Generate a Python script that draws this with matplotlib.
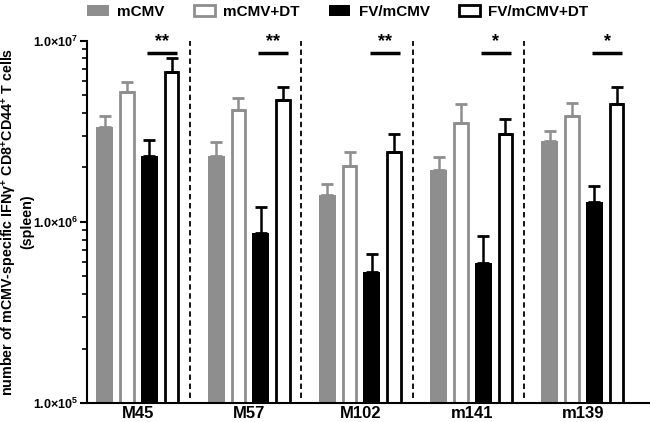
# -*- coding: utf-8 -*-

import numpy as np
import matplotlib
matplotlib.use('Agg')
import matplotlib.pyplot as plt
from matplotlib.patches import Patch
from matplotlib.ticker import FuncFormatter, LogLocator

matplotlib.rc('font', **{'family': 'sans-serif',
                         'sans-serif': ['Liberation Sans', 'DejaVu Sans'],
                         'weight': 'bold'})
matplotlib.rcParams['mathtext.fontset'] = 'custom'
matplotlib.rcParams['mathtext.rm'] = 'Liberation Sans:bold'
matplotlib.rcParams['mathtext.bf'] = 'Liberation Sans:bold'

targets = ['M45', 'M57', 'M102', 'm141', 'm139']
series = ['mCMV', 'mCMV+DT', 'FV/mCMV', 'FV/mCMV+DT']

mcmv = [3.36e6, 2.32e6, 1.41e6, 1.94e6, 2.81e6]
mcmv_err = [0.50e6, 0.46e6, 0.21e6, 0.35e6, 0.38e6]
mcmv_dt = [5.21e6, 4.14e6, 2.03e6, 3.51e6, 3.84e6]
mcmv_dt_err = [0.70e6, 0.72e6, 0.41e6, 1.00e6, 0.70e6]
fv = [2.32e6, 8.66e5, 5.31e5, 5.96e5, 1.29e6]
fv_err = [0.52e6, 0.35e6, 0.134e6, 0.24e6, 0.30e6]
fv_dt = [6.71e6, 4.72e6, 2.43e6, 3.08e6, 4.51e6]
fv_dt_err = [1.31e6, 0.88e6, 0.62e6, 0.64e6, 1.09e6]

stars = ['**', '**', '**', '*', '*']
sig_level = 8.6e6

gray = '#8e8e8e'

fig = plt.figure(figsize=(6.5, 4.22), dpi=100)
ax = fig.add_axes([0.134, 0.045, 0.866, 0.858])
ax.set_yscale('log')

x = np.arange(len(targets))
step = 0.2

# (values, errors, filled?, colour)
groups = [(mcmv, mcmv_err, True, gray),
          (mcmv_dt, mcmv_dt_err, False, gray),
          (fv, fv_err, True, 'k'),
          (fv_dt, fv_dt_err, False, 'k')]

for k, (vals, errs, filled, col) in enumerate(groups):
    xs = x + (k - 1.5)*step
    if filled:
        ax.bar(xs, vals, width=0.152, color=col, lw=0, zorder=2)
    else:
        ax.bar(xs, vals, width=0.122, facecolor='white', edgecolor=col,
               lw=2.0, zorder=2)
    ax.errorbar(xs, vals, yerr=[np.zeros(len(errs)), errs], fmt='none',
                ecolor=col, elinewidth=1.8, capsize=4, capthick=2, zorder=3)

# separators between peptides
for i in x[:-1]:
    ax.vlines(i + 0.466, 1.06e5, 1e7, colors='k', lw=1.3,
              linestyles=(0, (3, 2)), zorder=1)

# significance bars
for i, s in zip(x, stars):
    x0 = i + 0.5*step - 0.02
    x1 = i + 1.5*step + 0.05
    ax.plot([x0, x1], [sig_level, sig_level], 'k-', lw=2.5, solid_capstyle='butt')
    ax.text(0.5*(x0 + x1), sig_level*1.03, s, ha='center', va='bottom',
            fontsize=13, fontweight='bold')

ax.set_xlim(-0.46, 4.6)
ax.set_ylim(1e5, 1e7)

ax.spines['top'].set_visible(False)
ax.spines['right'].set_visible(False)
ax.spines['left'].set_linewidth(1.5)
ax.spines['bottom'].set_linewidth(1.5)

ax.yaxis.set_major_locator(LogLocator(base=10, numticks=5))
ax.yaxis.set_minor_locator(LogLocator(base=10, subs=np.arange(2, 10), numticks=20))
ax.yaxis.set_major_formatter(FuncFormatter(
    lambda v, p: r'$1.0{\times}10^{%d}$' % round(np.log10(v))))
ax.yaxis.set_minor_formatter(FuncFormatter(lambda v, p: ''))
ax.tick_params(axis='y', which='major', length=5, width=1.5, labelsize=9, pad=1.5)
ax.tick_params(axis='y', which='minor', length=3.5, width=1.2)

ax.set_xticks(x)
ax.set_xticklabels(targets, fontsize=12, fontweight='bold')
ax.tick_params(axis='x', length=0, pad=2)

ax.set_ylabel(u'number of mCMV-specific IFN\u03b3$^{+}$ CD8$^{+}$CD44$^{+}$ T cells\n(spleen)',
              fontsize=10.3, fontweight='bold', linespacing=1.1)
ax.yaxis.set_label_coords(-0.094, 0.5)

handles = [Patch(facecolor=gray, edgecolor=gray, lw=0),
           Patch(facecolor='white', edgecolor=gray, lw=2),
           Patch(facecolor='k', edgecolor='k', lw=0),
           Patch(facecolor='white', edgecolor='k', lw=2)]
fig.legend(handles, series, loc='center', bbox_to_anchor=(0.52, 0.972), ncol=4,
           frameon=False, handlelength=1.4, handleheight=0.8,
           columnspacing=1.9, handletextpad=0.55, prop={'weight': 'bold', 'size': 11})

fig.savefig('out.png', dpi=100)
